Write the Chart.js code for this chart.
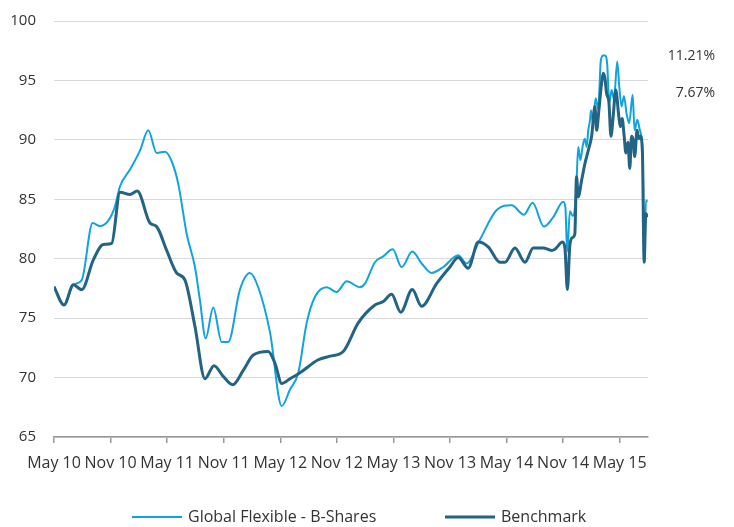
<!DOCTYPE html>
<html>
<head>
<meta charset="utf-8">
<script src="https://cdn.jsdelivr.net/npm/chart.js@4"></script>
<style>
  body { margin: 0; background: #fff; }
  #wrap { width: 734px; height: 527px; position: relative; }
</style>
</head>
<body>
<div id="wrap"><canvas id="chart"></canvas></div>
<script>
// months since May 2010
const tickMonths = [0, 6, 12, 18, 24, 30, 36, 42, 48, 54, 60];
const tickLabels = ['May 10', 'Nov 10', 'May 11', 'Nov 11', 'May 12', 'Nov 12', 'May 13', 'Nov 13', 'May 14', 'Nov 14', 'May 15'];

const fundMonths = [0.0, 1.06, 2.05, 2.94, 4.10, 4.88, 5.76, 6.47, 7.0, 8.06, 9.12, 10.0, 10.89, 11.77, 12.48, 13.18,
  14.07, 14.95, 15.48, 16.09, 16.89, 17.78, 18.48, 19.72, 20.78, 21.66, 22.91, 24.15, 25.03, 25.91, 26.80, 27.68,
  28.92, 29.98, 31.04, 32.45, 32.98, 34.04, 34.92, 35.92, 36.87, 38.0, 38.99, 40.05, 41.28, 42.87, 43.76, 45.17,
  46.95, 48.54, 49.84, 50.76, 51.96, 52.95, 54.01, 54.24, 54.43, 54.72, 55.03, 55.37, 55.6, 55.83, 56.1, 56.3,
  56.5, 56.66, 56.84, 56.95, 57.16, 57.44, 57.72, 58.0, 58.25, 58.43, 58.67, 58.89, 59.14, 59.39, 59.74, 59.95,
  60.2, 60.45, 60.73, 61.01, 61.37, 61.58, 61.86, 62.14, 62.43, 62.6, 62.78, 62.96];
const fundValues = [77.65, 76.1, 77.8, 78.2, 83.0, 82.75, 83.2, 84.4, 86.1, 87.5, 89.1, 90.8, 88.9, 89.0, 88.2, 86.3,
  82.1, 79.3, 76.5, 73.3, 75.9, 73.0, 73.0, 77.4, 78.8, 77.6, 73.8, 67.6, 69.0, 70.4, 74.6, 76.8,
  77.6, 77.2, 78.1, 77.6, 77.9, 79.7, 80.2, 80.8, 79.3, 80.6, 79.6, 78.8, 79.3, 80.3, 79.6, 81.6,
  84.1, 84.5, 83.7, 84.7, 82.7, 83.5, 84.8, 84.3, 80.6, 84.0, 83.6, 85.5, 89.4, 88.3, 89.6, 90.1,
  89.4, 90.8, 91.6, 92.5, 91.5, 93.5, 92.6, 96.7, 97.1, 97.1, 96.4, 93.1, 94.2, 93.4, 96.6, 94.5,
  92.8, 93.7, 92.2, 91.4, 93.8, 90.8, 91.7, 90.8, 88.9, 79.9, 84.9, 84.8];

const benchMonths = [0.0, 1.06, 2.05, 2.94, 4.17, 5.23, 6.12, 7.0, 8.06, 8.83, 10.18, 10.89, 11.95, 13.01, 13.89, 14.95,
  16.01, 16.97, 17.95, 18.95, 20.07, 21.13, 22.72, 23.44, 24.15, 25.03, 26.09, 28.03, 29.27, 30.68, 32.27, 34.04,
  34.92, 35.81, 36.77, 38.0, 38.99, 40.58, 41.99, 42.87, 43.93, 45.0, 46.05, 47.3, 47.83, 48.89, 49.95, 50.83,
  51.89, 52.78, 53.13, 53.94, 54.19, 54.45, 54.72, 55.03, 55.24, 55.42, 55.6, 55.96, 56.31, 56.66, 57.02, 57.37,
  57.55, 57.79, 58.08, 58.25, 58.43, 58.61, 58.85, 59.07, 59.31, 59.58, 59.9, 60.07, 60.26, 60.45, 60.66, 60.87,
  61.07, 61.25, 61.42, 61.59, 61.84, 62.02, 62.2, 62.41, 62.59, 62.77, 62.95];
const benchValues = [77.65, 76.1, 77.8, 77.4, 79.9, 81.2, 81.3, 85.6, 85.4, 85.7, 83.0, 82.7, 80.7, 78.8, 78.2, 74.3,
  69.9, 71.0, 70.1, 69.4, 70.6, 71.9, 72.2, 71.2, 69.5, 69.9, 70.4, 71.5, 71.8, 72.2, 74.6, 76.1,
  76.4, 77.0, 75.5, 77.4, 76.0, 77.9, 79.3, 80.1, 79.2, 81.4, 81.0, 79.7, 79.7, 80.9, 79.7, 80.9,
  80.9, 80.7, 80.8, 81.4, 80.9, 77.4, 81.2, 81.8, 82.1, 86.9, 85.2, 86.6, 88.0, 89.1, 90.3, 92.8,
  90.8, 92.5, 94.8, 95.6, 95.2, 93.9, 93.2, 90.3, 92.0, 94.2, 92.0, 91.1, 91.8, 90.5, 88.9, 89.8,
  87.6, 90.3, 90.0, 88.6, 90.8, 90.1, 90.3, 88.9, 79.7, 83.8, 83.5];

const seriesNames = ['Global Flexible - B-Shares', 'Benchmark'];
const endLabels = ['11.21%', '7.67%'];

const FONT = '"Open Sans", "Noto Sans", sans-serif';
const TEXT = '#333333';

function toPoints(xs, ys) {
  return xs.map((x, i) => ({ x, y: ys[i] }));
}

// end-of-period returns on the right and the legend under the axis
const extras = {
  id: 'extras',
  afterDraw(chart) {
    const c = chart.ctx;
    c.save();
    c.font = '14px ' + FONT;
    c.fillStyle = TEXT;
    c.textBaseline = 'middle';
    c.textAlign = 'right';
    c.fillText(endLabels[0], 715, 56);
    c.fillText(endLabels[1], 715, 93);

    c.font = '16px ' + FONT;
    c.textAlign = 'left';
    const legendX = [132, 445];
    legendX.forEach((x, i) => {
      const ds = chart.data.datasets[i];
      c.strokeStyle = ds.borderColor;
      c.lineWidth = ds.borderWidth;
      c.beginPath();
      c.moveTo(x, 517);
      c.lineTo(x + 50, 517);
      c.stroke();
      c.fillStyle = TEXT;
      c.fillText(ds.label, x + 56, 517);
    });
    c.restore();
  }
};

new Chart(document.getElementById('chart'), {
  type: 'line',
  data: {
    datasets: [
      {
        label: seriesNames[0],
        data: toPoints(fundMonths, fundValues),
        borderColor: '#10a3de',
        borderWidth: 2,
        order: 1
      },
      {
        label: seriesNames[1],
        data: toPoints(benchMonths, benchValues),
        borderColor: '#236383',
        borderWidth: 3,
        order: 0
      }
    ]
  },
  options: {
    responsive: true,
    maintainAspectRatio: false,
    animation: false,
    layout: { padding: { top: 21, right: 86, left: 0, bottom: 0 } },
    elements: {
      point: { radius: 0 },
      line: { cubicInterpolationMode: 'monotone' }
    },
    plugins: {
      legend: { display: false },
      tooltip: { enabled: false }
    },
    scales: {
      x: {
        type: 'linear',
        min: 0,
        max: 63,
        afterBuildTicks: s => { s.ticks = tickMonths.map(v => ({ value: v })); },
        afterFit: s => { s.height = 90; },
        grid: { drawOnChartArea: false, drawTicks: true, tickLength: 6, color: '#999', lineWidth: 1.5 },
        border: { color: '#999', width: 1.5 },
        ticks: {
          autoSkip: false,
          maxRotation: 0,
          padding: 11,
          color: TEXT,
          font: { family: FONT, size: 16 },
          callback: v => tickLabels[tickMonths.indexOf(v)]
        }
      },
      y: {
        min: 65,
        max: 100,
        afterFit: s => {
          s.width = 54;
          s.paddingTop = 0;
          s.paddingBottom = 0;
        },
        grid: { color: '#d9d9d9', drawTicks: false },
        border: { display: false },
        ticks: {
          stepSize: 5,
          padding: 18,
          color: TEXT,
          font: { family: FONT, size: 15 }
        }
      }
    }
  },
  plugins: [extras]
});
</script>
</body>
</html>
